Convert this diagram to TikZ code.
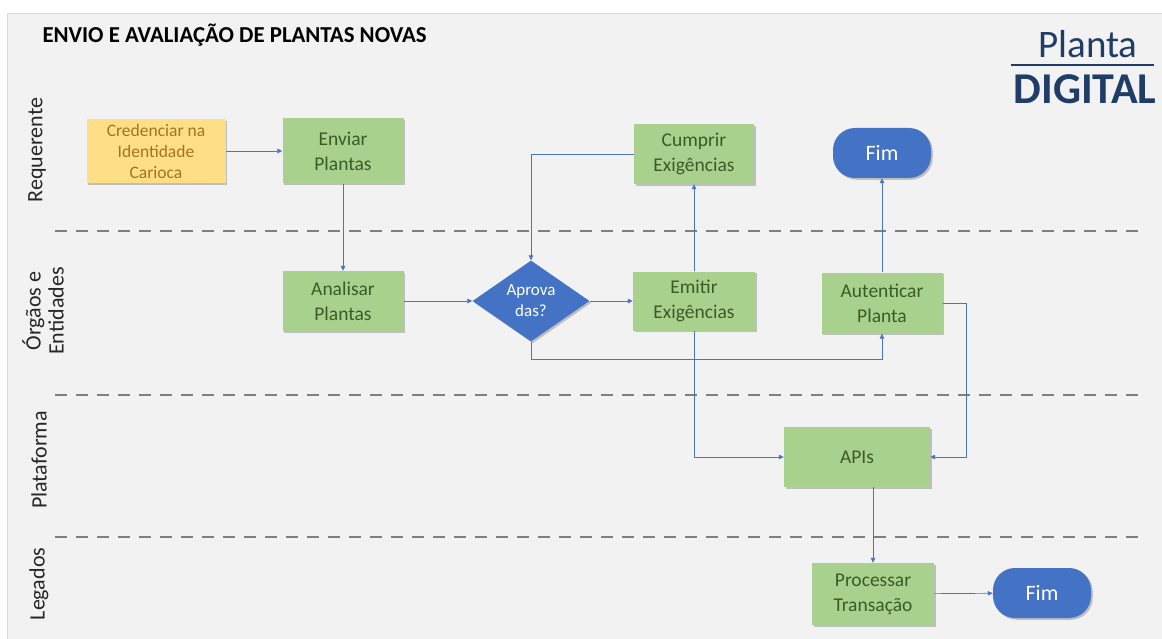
\documentclass[tikz,border=0pt]{standalone}
\usepackage{fontspec}
\setmainfont{Carlito}
\usetikzlibrary{shapes.geometric,shadows,arrows.meta}
\definecolor{panel}{HTML}{F2F2F2}
\definecolor{lanegrey}{HTML}{7F7F7F}
\definecolor{flow}{HTML}{4A74C4}
\definecolor{greenfill}{HTML}{A9D18E}
\definecolor{greentext}{HTML}{3A5A27}
\definecolor{yellowfill}{HTML}{FEDF88}
\definecolor{yellowtext}{HTML}{A5731A}
\definecolor{bluefill}{HTML}{4472C4}
\definecolor{navy}{HTML}{1F3D66}
\tikzset{
  softshadow/.style={drop shadow={shadow xshift=1.8pt,shadow yshift=-1.8pt,opacity=0.3,fill=black!70}},
  taskbox/.style={softshadow,fill=greenfill,text=greentext,align=center,inner sep=0pt,
    font=\fontsize{19.5}{25}\selectfont},
  loginbox/.style={softshadow,fill=yellowfill,text=yellowtext,align=center,inner sep=0pt,
    font=\fontsize{17.5}{21}\selectfont},
  endbox/.style={softshadow,fill=bluefill,text=white,rounded corners=22pt,inner sep=0pt,
    font=\fontsize{22}{24}\selectfont},
  decision/.style={softshadow,diamond,fill=bluefill,text=white,align=center,inner sep=0pt,
    font=\fontsize{17}{21}\selectfont},
  lanesep/.style={draw=lanegrey,line width=2.2pt,dash pattern=on 12pt off 9pt},
  lanelabel/.style={rotate=90,align=center,text=black!85,font=\fontsize{22}{23}\selectfont},
  arr/.style={draw=flow,line width=0.7pt,-{Triangle[length=5pt,width=4.5pt]}},
}
\begin{document}
\begin{tikzpicture}[x=1pt,y=-1pt]
\useasboundingbox (0,0) rectangle (1162,639);
% page and panel
\fill[white] (0,0) rectangle (1162,639);
\fill[panel] (7,13) rectangle (1162,639);
\draw[black!15,line width=0.8pt] (7,639) -- (7,13) -- (1162,13);

% headings
\node[anchor=west,font=\bfseries\fontsize{22.8}{26}\selectfont] (title) at (39,35)
  {ENVIO E AVALIAÇÃO DE PLANTAS NOVAS};
\node[text=navy,font=\fontsize{39}{40}\selectfont] (brandtop) at (1088,44) {Planta};
\node[text=navy,font=\bfseries\fontsize{44}{46}\selectfont] (brandbottom) at (1085,89) {DIGITAL};
\draw[navy,line width=1.6pt] (1011,65) -- (1154,65);

% swimlane separators
\draw[lanesep] (55,231) -- (1145,231);
\draw[lanesep] (55,395) -- (1145,395);
\draw[lanesep] (55,537) -- (1145,537);

% swimlane names
\node[lanelabel] (laneA) at (37,150) {Requerente};
\node[lanelabel] (laneB) at (43,311) {Órgãos e\\Entidades};
\node[lanelabel] (laneC) at (39,460) {Plataforma};
\node[lanelabel] (laneD) at (39,584) {Legados};

% process steps
\node[loginbox,minimum width=139pt,minimum height=64pt] (cred) at (156,151)
  {Credenciar na\\Identidade\\Carioca};
\node[taskbox,minimum width=121pt,minimum height=65pt] (env) at (343,151) {Enviar\\Plantas};
\node[taskbox,minimum width=120pt,minimum height=60pt] (cum) at (694,154) {Cumprir\\Exigências};
\node[endbox,minimum width=98pt,minimum height=50pt] (fimA) at (882,153) {Fim};
\node[taskbox,minimum width=121pt,minimum height=60pt] (ana) at (343,301) {Analisar\\Plantas};
\node[decision,minimum width=117pt,minimum height=68pt] (dia) at (531,301) {Aprova\\das?};
\node[taskbox,minimum width=122pt,minimum height=59pt] (emi) at (694,301) {Emitir\\Exigências};
\node[taskbox,minimum width=121pt,minimum height=61pt] (aut) at (882,303) {Autenticar\\Planta};
\node[taskbox,minimum width=146pt,minimum height=60pt] (api) at (857,457) {APIs};
\node[taskbox,minimum width=122pt,minimum height=62pt] (proc) at (873,594) {Processar\\Transação};
\node[endbox,minimum width=98pt,minimum height=50pt] (fimB) at (1042,593) {Fim};

% bend points
\coordinate (yesbend) at (531,359);
\coordinate (autturn) at (966,303);

% connectors
\draw[arr] (cred) -- (env);
\draw[arr] (env) -- (ana);
\draw[arr] (ana) -- (dia);
\draw[arr] (dia) -- (emi);
\draw[arr] (cum.west) -| (dia.north);
\draw[arr] (emi) -- (cum);
\draw[arr] (dia.south) -- (yesbend) -| (aut.south);
\draw[arr] (aut) -- (fimA);
\draw[arr] (emi.south) |- (api.west);
\draw[arr] (aut.east) -- (autturn) |- (api.east);
\draw[arr] (proc.north |- api.south) -- (proc.north);
\draw[arr] (proc) -- (fimB);
\end{tikzpicture}
\end{document}
